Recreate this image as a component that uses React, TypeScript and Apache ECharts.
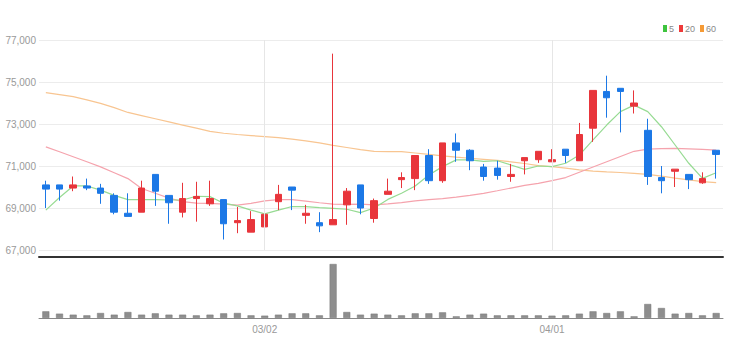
import React, { useEffect, useRef } from "react";
import * as echarts from "echarts";

const dates = [
  "02/07","02/08","02/09","02/10","02/11","02/14","02/15","02/16","02/17","02/18",
  "02/21","02/22","02/23","02/24","02/25","02/28","03/02","03/03","03/04","03/07",
  "03/08","03/10","03/11","03/14","03/15","03/16","03/17","03/18","03/21","03/22",
  "03/23","03/24","03/25","03/28","03/29","03/30","03/31","04/01","04/04","04/05",
  "04/06","04/07","04/08","04/11","04/12","04/13","04/14","04/15","04/18","04/19",
];

// open, close, low, high
const opens = [70100,70100,69950,70050,69950,69600,68750,68800,70600,69600,68800,69450,69200,69400,68300,67850,68100,69300,70000,68650,68300,68200,69150,70100,68500,69650,70350,70400,71500,70300,72100,71750,70950,70900,70500,71250,71300,71200,71800,71250,72800,74550,74700,73850,72700,70450,70750,70600,70200,71750];
const closes = [69900,69900,70100,69950,69700,68800,68600,69950,69800,69250,69450,69550,69450,68250,68400,68450,68700,69650,69850,68750,68150,68450,69800,69000,69350,69800,70450,71500,70300,72100,71750,71250,70500,70550,70600,71400,71700,71300,71500,72500,74600,74250,74550,74000,70500,70300,70850,70350,70400,71550];
const lows = [69000,69350,69800,69850,69200,68700,68600,68800,69100,68250,68550,68350,69100,67500,67800,67850,68100,68900,68900,68250,67850,68200,68200,68700,68300,69650,69950,69850,70150,70200,71200,70800,70300,70350,70250,70600,71150,71200,71150,71250,72150,73300,72600,73500,70100,69700,70000,69900,70150,70400];
const highs = [70300,70100,70500,70400,70150,69700,69700,70300,70600,69600,70200,70250,70300,69400,69050,68850,68700,70100,70000,69150,68800,76350,69950,70100,69450,70400,70700,71500,71800,72100,72550,71800,71100,71250,71100,71400,71700,71800,71800,73050,74600,75300,74700,74600,73250,71000,70850,70600,70700,71750];

const ma5 = [68900,69500,70050,70050,69850,69600,69400,69400,69400,69380,69380,69560,69540,69230,69100,68900,68720,68900,69070,69070,69020,68980,68940,68780,69000,69410,69700,70050,70570,70970,71290,71290,71220,71250,71050,70840,71000,70970,71130,71520,72240,72950,73590,73900,73590,72870,72000,71130,70410,70680];
const ma20 = [71910,71680,71440,71200,70960,70680,70400,69930,69700,69470,69300,69230,69220,69180,69140,69220,69340,69400,69400,69330,69250,69180,69170,69180,69150,69200,69260,69340,69400,69450,69520,69600,69700,69820,69950,70080,70170,70300,70450,70700,70950,71200,71450,71700,71800,71830,71840,71820,71790,71760];
const ma60 = [74490,74400,74300,74150,73980,73780,73550,73400,73250,73100,72950,72800,72650,72560,72500,72450,72400,72350,72280,72200,72100,71980,71880,71780,71700,71680,71680,71620,71550,71480,71420,71370,71320,71270,71200,71120,71020,70970,70900,70820,70760,70720,70690,70650,70600,70520,70420,70340,70260,70210];

// volume (thousand shares)
const volumes = [1000,650,500,400,750,500,900,500,700,500,500,400,500,700,750,400,350,500,700,700,400,8100,900,500,650,500,400,700,700,850,250,500,650,400,400,400,400,350,400,650,1000,750,1000,250,2100,1500,650,750,400,750];

const shownLabels = ["03/02", "04/01"];
const priceTicks = { min: 67000, max: 77000, interval: 2000 };

const FONT = "'Liberation Sans Narrow', 'Liberation Sans', 'DejaVu Sans', sans-serif";

export default function App() {
  const ref = useRef<HTMLDivElement>(null);
  useEffect(() => {
    document.body.style.margin = "0";
    if (!ref.current) return;
    const chart = echarts.init(ref.current, undefined, { renderer: "svg" });
    const showFn = (_i: number, v: string) => shownLabels.includes(v);
    const fmt = (v: number) => String(v).replace(/\B(?=(\d{3})+(?!\d))/g, ",");
    const candleData = dates.map((_, i) => [opens[i], closes[i], lows[i], highs[i]]);
    chart.setOption({
      animation: false,
      legend: {
        right: 18,
        top: 19,
        itemWidth: 4,
        itemHeight: 7,
        itemGap: 5,
        icon: "rect",
        selectedMode: false,
        data: ["5", "20", "60"],
        textStyle: { fontSize: 9, color: "#888", fontFamily: FONT, padding: [0, 0, 0, -3] },
      },
      grid: [
        { left: 39, right: 16, top: 40, height: 210 },
        { left: 39, right: 16, top: 264, height: 54 },
      ],
      xAxis: [
        {
          type: "category",
          data: dates,
          gridIndex: 0,
          boundaryGap: true,
          offset: 7,
          axisLine: { lineStyle: { color: "#333", width: 2 } },
          axisTick: { show: false },
          axisLabel: { show: false },
          splitLine: { show: false },
        },
        {
          type: "category",
          data: dates,
          gridIndex: 1,
          boundaryGap: true,
          axisLine: { lineStyle: { color: "#888" } },
          axisTick: { alignWithLabel: true, interval: showFn, length: 4, lineStyle: { color: "#444" } },
          axisLabel: { interval: showFn, fontSize: 10, color: "#999", margin: 6, fontFamily: FONT },
          splitLine: { show: false },
        },
      ],
      yAxis: [
        {
          type: "value",
          gridIndex: 0,
          min: priceTicks.min,
          max: priceTicks.max,
          interval: priceTicks.interval,
          axisLine: { show: false },
          axisTick: { show: false },
          axisLabel: { formatter: fmt, fontSize: 10, color: "#999", margin: 3, fontFamily: FONT },
          splitLine: { lineStyle: { color: "#ececec" } },
        },
        {
          type: "value",
          gridIndex: 1,
          min: 0,
          max: "dataMax",
          axisLine: { show: false },
          axisTick: { show: false },
          axisLabel: { show: false },
          splitLine: { show: false },
        },
      ],
      series: [
        {
          type: "line",
          name: "vgrid",
          data: [],
          xAxisIndex: 0,
          yAxisIndex: 0,
          z: 0,
          silent: true,
          markLine: {
            silent: true,
            symbol: ["none", "none"],
            label: { show: false },
            lineStyle: { color: "#e6e6e6", type: "solid", width: 1 },
            data: shownLabels.map((d) => ({ xAxis: d })),
          },
        },
        {
          type: "line",
          name: "60",
          data: ma60,
          showSymbol: false,
          itemStyle: { color: "#f59a35" },
          lineStyle: { color: "#f8c591", width: 1.2 },
          z: 2,
        },
        {
          type: "line",
          name: "20",
          data: ma20,
          showSymbol: false,
          itemStyle: { color: "#ee3a3a" },
          lineStyle: { color: "#f5a3ad", width: 1.2 },
          z: 2,
        },
        {
          type: "line",
          name: "5",
          data: ma5,
          showSymbol: false,
          itemStyle: { color: "#3ec43e" },
          lineStyle: { color: "#97db93", width: 1.2 },
          z: 2,
        },
        {
          type: "candlestick",
          name: "price",
          data: candleData,
          barWidth: 7,
          z: 3,
          itemStyle: {
            color: "#e8353b",
            color0: "#1c78e6",
            borderColor: "#e8353b",
            borderColor0: "#1c78e6",
            borderWidth: 1,
          },
        },
        {
          type: "bar",
          name: "vol",
          data: volumes,
          xAxisIndex: 1,
          yAxisIndex: 1,
          barWidth: 7,
          itemStyle: { color: "#8e8e8e", borderColor: "#777", borderWidth: 0.5 },
        },
      ],
    });
    return () => chart.dispose();
  }, []);
  return <div ref={ref} style={{ width: 739, height: 357 }} />;
}
